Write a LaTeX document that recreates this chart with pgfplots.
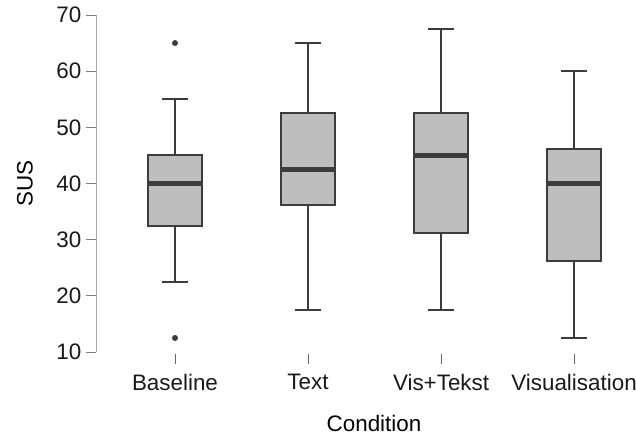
\documentclass[border=0pt]{standalone}
\usepackage{fontspec}
\setmainfont{Liberation Sans}
\usepackage{pgfplots}
\pgfplotsset{compat=1.18}
\definecolor{boxfill}{HTML}{BEBEBE}
\definecolor{boxline}{HTML}{3C3C3C}
\begin{document}
\begin{tikzpicture}
\begin{axis}[
  at={(0,0)}, anchor=south west, scale only axis,
  width=417pt, height=252.75pt,
  xmin=0.406, xmax=4.586, ymin=10, ymax=70,
  axis x line*=bottom, axis y line*=left,
  x axis line style={draw=none},
  y axis line style={draw=black!35, line width=0.7pt},
  xtick={1,2,3,4}, xticklabels={Baseline,Text,Vis+Tekst,Visualisation},
  ytick={10,20,30,40,50,60,70},
  tick align=outside, major tick length=7.5pt,
  xtick style={draw=black!60, line width=0.7pt, yshift=-1.5pt},
  ytick style={draw=black!50, line width=0.7pt},
  /pgf/number format/assume math mode=true,
  tick label style={font=\fontsize{16.8}{19}\selectfont, text=black!90},
  xticklabel style={yshift=-5.5pt},
  label style={font=\fontsize{16.8}{19}\selectfont},
  xlabel={Condition}, ylabel={SUS},
  xlabel style={at={(axis description cs:0.5,0)}, anchor=center, yshift=-53.25pt},
  ylabel style={at={(axis description cs:0,0.5)}, anchor=center, yshift=53.25pt},
  clip=false,
  whisk/.style={draw=boxline, line width=1.5pt},
]
% Baseline: 22.5 / 32.5 / 40 / 45 / 55, outliers 65, 12.5
\addplot[whisk] coordinates {(1,45) (1,55)};
\addplot[whisk] coordinates {(0.9,55) (1.1,55)};
\addplot[whisk] coordinates {(1,32.5) (1,22.5)};
\addplot[whisk] coordinates {(0.9,22.5) (1.1,22.5)};
\addplot[whisk, fill=boxfill] coordinates {(0.8,32.5) (1.2,32.5) (1.2,45) (0.8,45)} -- cycle;
\addplot[draw=boxline, line width=3.5pt] coordinates {(0.8,40) (1.2,40)};
\addplot[only marks, mark=*, mark size=2pt, mark options={fill=boxline, draw=boxline}] coordinates {(1,65) (1,12.5)};
% Text: 17.5 / 36.2 / 42.5 / 52.5 / 65
\addplot[whisk] coordinates {(2,52.5) (2,65)};
\addplot[whisk] coordinates {(1.9,65) (2.1,65)};
\addplot[whisk] coordinates {(2,36.2) (2,17.5)};
\addplot[whisk] coordinates {(1.9,17.5) (2.1,17.5)};
\addplot[whisk, fill=boxfill] coordinates {(1.8,36.2) (2.2,36.2) (2.2,52.5) (1.8,52.5)} -- cycle;
\addplot[draw=boxline, line width=3.5pt] coordinates {(1.8,42.5) (2.2,42.5)};
% Vis+Tekst: 17.5 / 31.2 / 45 / 52.5 / 67.5
\addplot[whisk] coordinates {(3,52.5) (3,67.5)};
\addplot[whisk] coordinates {(2.9,67.5) (3.1,67.5)};
\addplot[whisk] coordinates {(3,31.2) (3,17.5)};
\addplot[whisk] coordinates {(2.9,17.5) (3.1,17.5)};
\addplot[whisk, fill=boxfill] coordinates {(2.8,31.2) (3.2,31.2) (3.2,52.5) (2.8,52.5)} -- cycle;
\addplot[draw=boxline, line width=3.5pt] coordinates {(2.8,45) (3.2,45)};
% Visualisation: 12.5 / 26.2 / 40 / 46.2 / 60
\addplot[whisk] coordinates {(4,46.2) (4,60)};
\addplot[whisk] coordinates {(3.9,60) (4.1,60)};
\addplot[whisk] coordinates {(4,26.2) (4,12.5)};
\addplot[whisk] coordinates {(3.9,12.5) (4.1,12.5)};
\addplot[whisk, fill=boxfill] coordinates {(3.8,26.2) (4.2,26.2) (4.2,46.2) (3.8,46.2)} -- cycle;
\addplot[draw=boxline, line width=3.5pt] coordinates {(3.8,40) (4.2,40)};
\end{axis}
\pgfresetboundingbox
\path[use as bounding box] (-72pt,-63.75pt) rectangle (405pt,264pt);
\end{tikzpicture}
\end{document}
